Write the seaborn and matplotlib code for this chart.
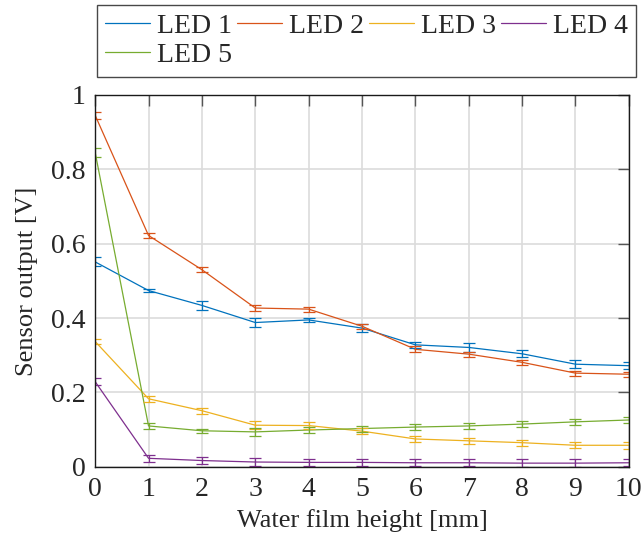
import pandas as pd
import seaborn as sns
import matplotlib.pyplot as plt
import numpy as np

# water film height [mm]
height = [0, 1, 2, 3, 4, 5, 6, 7, 8, 9, 10]

led1 = [0.551, 0.474, 0.434, 0.388, 0.395, 0.373, 0.328, 0.321, 0.304, 0.276, 0.272]
led2 = [0.945, 0.622, 0.530, 0.427, 0.424, 0.378, 0.316, 0.303, 0.281, 0.252, 0.249]
led3 = [0.337, 0.183, 0.151, 0.112, 0.111, 0.096, 0.075, 0.070, 0.065, 0.058, 0.058]
led4 = [0.229, 0.023, 0.017, 0.013, 0.012, 0.012, 0.011, 0.011, 0.010, 0.010, 0.011]
led5 = [0.845, 0.110, 0.097, 0.094, 0.099, 0.103, 0.107, 0.110, 0.115, 0.121, 0.126]

err1 = [0.012, 0.005, 0.012, 0.012, 0.005, 0.010, 0.008, 0.012, 0.010, 0.010, 0.010]
err2 = [0.010, 0.008, 0.007, 0.007, 0.007, 0.007, 0.008, 0.007, 0.007, 0.007, 0.007]
err3 = [0.008, 0.008, 0.008, 0.010, 0.010, 0.008, 0.008, 0.008, 0.008, 0.008, 0.010]
err4 = [0.010, 0.010, 0.010, 0.010, 0.010, 0.010, 0.010, 0.010, 0.010, 0.010, 0.010]
err5 = [0.012, 0.008, 0.006, 0.010, 0.008, 0.008, 0.008, 0.008, 0.008, 0.008, 0.008]

names = ["LED 1", "LED 2", "LED 3", "LED 4", "LED 5"]
colors = ["#0072BD", "#D95319", "#EDB120", "#7E2F8E", "#77AC30"]

series = [led1, led2, led3, led4, led5]
errors = [err1, err2, err3, err4, err5]

df = pd.concat([pd.DataFrame({"height": height, "value": s, "err": e, "led": n})
                for s, e, n in zip(series, errors, names)], ignore_index=True)

sns.set_style("whitegrid")
plt.rcParams['font.family'] = ['Liberation Serif', 'DejaVu Serif']

fig = plt.figure(figsize=(6.43, 5.36), dpi=100)
ax = fig.add_axes([0.148, 0.129, 0.830, 0.694])

sns.lineplot(data=df, x="height", y="value", hue="led", palette=colors,
             linewidth=0.9, ax=ax, legend=False)
for n, c in zip(names, colors):
    d = df[df.led == n]
    ax.errorbar(d.height, d.value, yerr=d.err, fmt='none', ecolor=c,
                elinewidth=0.9, capsize=4.5, capthick=0.9)

ax.set_xlim(0, 10)
ax.set_ylim(0, 1)
ax.set_xticks(range(11))
ax.set_yticks([0, 0.2, 0.4, 0.6, 0.8, 1.0])
ax.set_yticklabels(["0", "0.2", "0.4", "0.6", "0.8", "1"])
ax.set_xlabel("Water film height [mm]", fontsize=19, labelpad=5)
ax.set_ylabel("Sensor output [V]", fontsize=19, labelpad=9)
ax.tick_params(direction='in', length=8, width=1, color='#555555',
               top=True, right=True, labelsize=20, pad=7)
ax.grid(True, color='#dcdcdc', linewidth=1.2)
for sp in ax.spines.values():
    sp.set_color('#1a1a1a')
    sp.set_linewidth(1.0)

# legend fills column-wise, so reorder to get LED 1-4 on the first row
order = [0, 4, 1, 2, 3]
handles = [plt.Line2D([], [], color=colors[i], linewidth=0.9) for i in order]
labels = [names[i] for i in order]
leg = fig.legend(handles, labels, loc='upper left', bbox_to_anchor=(0.151, 0.991),
                 ncol=4, fontsize=20, frameon=True, fancybox=False,
                 handlelength=1.6, handletextpad=0.25, columnspacing=0.2,
                 borderpad=0.3, labelspacing=0.15, borderaxespad=0)
leg.get_frame().set_edgecolor('#1a1a1a')
leg.get_frame().set_linewidth(1.0)

fig.savefig("out.png", dpi=100)
